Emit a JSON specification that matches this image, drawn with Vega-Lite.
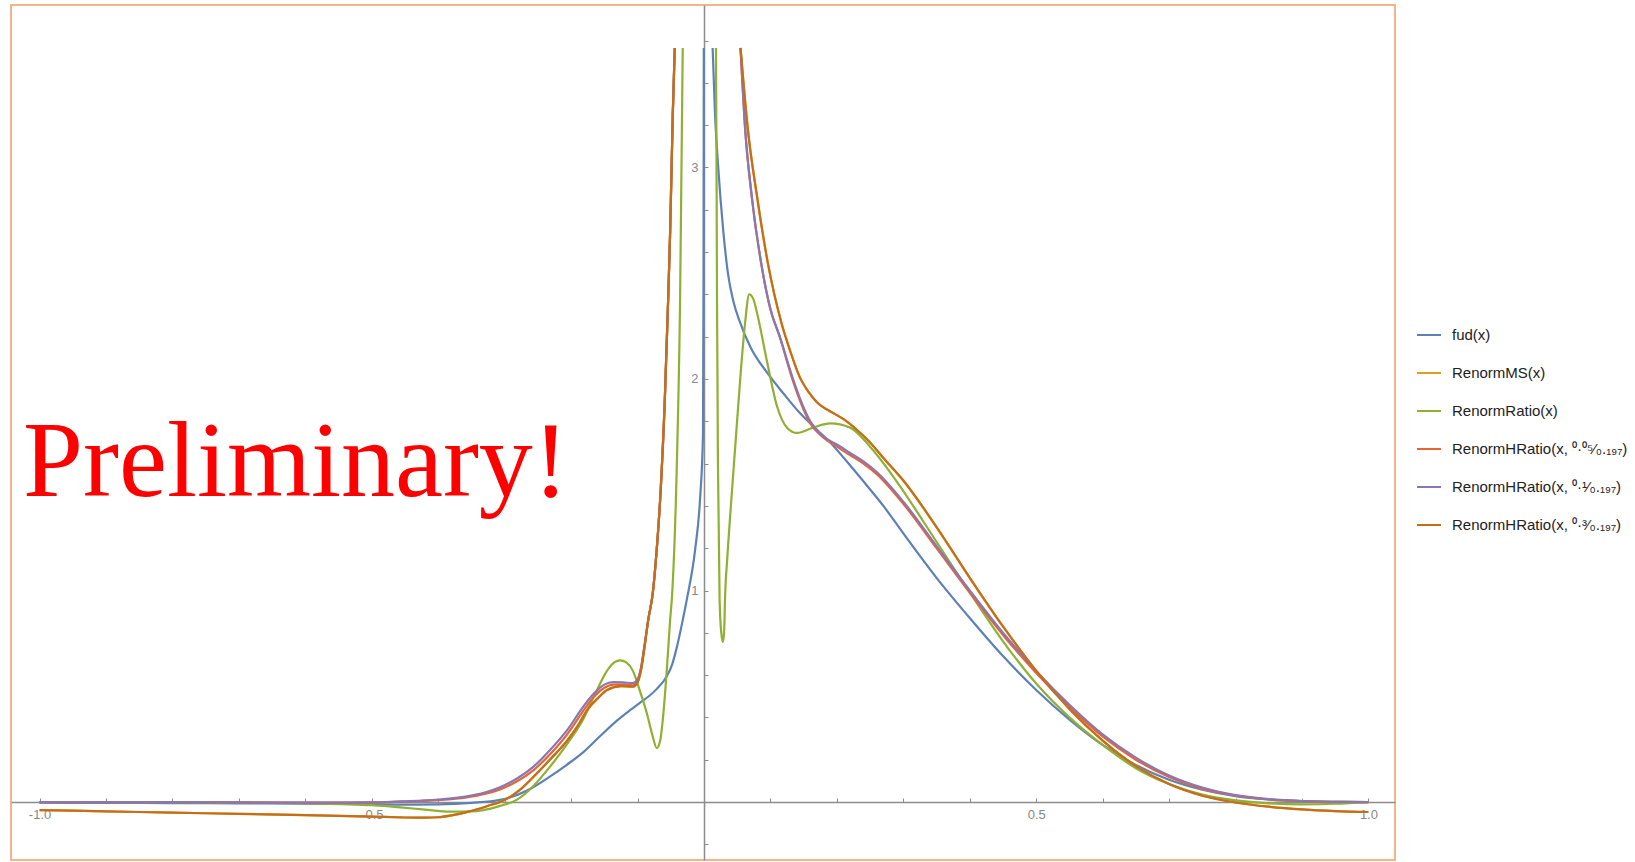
{
  "$schema": "https://vega.github.io/schema/vega-lite/v6.json",
  "width": 1384,
  "height": 855,
  "autosize": {"type": "none"},
  "padding": {"left": 11, "top": 5, "right": 240, "bottom": 2},
  "background": "white",
  "config": {"view": {"stroke": "#F4B48A", "strokeWidth": 2}, "font": "Liberation Sans"},
  "datasets": {
    "curves": [
      {"s":"fud","b":"L","x":-1,"y":-0.003},{"s":"fud","b":"L","x":-0.9,"y":-0.004},{"s":"fud","b":"L","x":-0.8,"y":-0.005},{"s":"fud","b":"L","x":-0.7,"y":-0.006},{"s":"fud","b":"L","x":-0.6,"y":-0.008},{"s":"fud","b":"L","x":-0.5,"y":-0.01},{"s":"fud","b":"L","x":-0.45,"y":-0.012},{"s":"fud","b":"L","x":-0.4,"y":-0.011},{"s":"fud","b":"L","x":-0.35,"y":-0.004},{"s":"fud","b":"L","x":-0.307,"y":0.01},{"s":"fud","b":"L","x":-0.28,"y":0.035},{"s":"fud","b":"L","x":-0.257,"y":0.07},{"s":"fud","b":"L","x":-0.232,"y":0.12},{"s":"fud","b":"L","x":-0.207,"y":0.175},{"s":"fud","b":"L","x":-0.182,"y":0.235},{"s":"fud","b":"L","x":-0.157,"y":0.31},{"s":"fud","b":"L","x":-0.131,"y":0.385},{"s":"fud","b":"L","x":-0.113,"y":0.43},{"s":"fud","b":"L","x":-0.096,"y":0.47},{"s":"fud","b":"L","x":-0.083,"y":0.5},{"s":"fud","b":"L","x":-0.071,"y":0.535},{"s":"fud","b":"L","x":-0.056,"y":0.595},{"s":"fud","b":"L","x":-0.048,"y":0.65},{"s":"fud","b":"L","x":-0.041,"y":0.73},{"s":"fud","b":"L","x":-0.032,"y":0.86},{"s":"fud","b":"L","x":-0.026,"y":0.955},{"s":"fud","b":"L","x":-0.0135,"y":1.19},{"s":"fud","b":"L","x":-0.006,"y":1.43},{"s":"fud","b":"L","x":-0.0015,"y":1.74},{"s":"fud","b":"L","x":-0.0007,"y":2.5},{"s":"fud","b":"L","x":-0.0003,"y":3.565},
      {"s":"fud","b":"R","x":0.013,"y":3.565},{"s":"fud","b":"R","x":0.0165,"y":3.26},{"s":"fud","b":"R","x":0.021,"y":3.02},{"s":"fud","b":"R","x":0.029,"y":2.7},{"s":"fud","b":"R","x":0.036,"y":2.5},{"s":"fud","b":"R","x":0.044,"y":2.37},{"s":"fud","b":"R","x":0.054,"y":2.27},{"s":"fud","b":"R","x":0.07,"y":2.15},{"s":"fud","b":"R","x":0.095,"y":2.03},{"s":"fud","b":"R","x":0.12,"y":1.93},{"s":"fud","b":"R","x":0.144,"y":1.84},{"s":"fud","b":"R","x":0.17,"y":1.76},{"s":"fud","b":"R","x":0.19,"y":1.7},{"s":"fud","b":"R","x":0.215,"y":1.61},{"s":"fud","b":"R","x":0.239,"y":1.52},{"s":"fud","b":"R","x":0.27,"y":1.4},{"s":"fud","b":"R","x":0.3,"y":1.27},{"s":"fud","b":"R","x":0.35,"y":1.06},{"s":"fud","b":"R","x":0.4,"y":0.87},{"s":"fud","b":"R","x":0.45,"y":0.69},{"s":"fud","b":"R","x":0.5,"y":0.53},{"s":"fud","b":"R","x":0.55,"y":0.39},{"s":"fud","b":"R","x":0.6,"y":0.27},{"s":"fud","b":"R","x":0.65,"y":0.175},{"s":"fud","b":"R","x":0.7,"y":0.105},{"s":"fud","b":"R","x":0.75,"y":0.058},{"s":"fud","b":"R","x":0.8,"y":0.028},{"s":"fud","b":"R","x":0.85,"y":0.012},{"s":"fud","b":"R","x":0.9,"y":0.004},{"s":"fud","b":"R","x":0.95,"y":0.001},{"s":"fud","b":"R","x":1,"y":0},

      {"s":"MS","b":"L","x":-1,"y":-0.038},{"s":"MS","b":"L","x":-0.9,"y":-0.044},{"s":"MS","b":"L","x":-0.8,"y":-0.05},{"s":"MS","b":"L","x":-0.7,"y":-0.056},{"s":"MS","b":"L","x":-0.6,"y":-0.062},{"s":"MS","b":"L","x":-0.5,"y":-0.069},{"s":"MS","b":"L","x":-0.45,"y":-0.073},{"s":"MS","b":"L","x":-0.42,"y":-0.074},{"s":"MS","b":"L","x":-0.4,"y":-0.072},{"s":"MS","b":"L","x":-0.38,"y":-0.063},{"s":"MS","b":"L","x":-0.36,"y":-0.05},{"s":"MS","b":"L","x":-0.34,"y":-0.033},{"s":"MS","b":"L","x":-0.32,"y":-0.013},{"s":"MS","b":"L","x":-0.307,"y":0},{"s":"MS","b":"L","x":-0.28,"y":0.05},{"s":"MS","b":"L","x":-0.257,"y":0.118},{"s":"MS","b":"L","x":-0.232,"y":0.2},{"s":"MS","b":"L","x":-0.206,"y":0.29},{"s":"MS","b":"L","x":-0.19,"y":0.36},{"s":"MS","b":"L","x":-0.176,"y":0.435},{"s":"MS","b":"L","x":-0.16,"y":0.49},{"s":"MS","b":"L","x":-0.146,"y":0.53},{"s":"MS","b":"L","x":-0.125,"y":0.548},{"s":"MS","b":"L","x":-0.107,"y":0.545},{"s":"MS","b":"L","x":-0.1,"y":0.565},{"s":"MS","b":"L","x":-0.095,"y":0.62},{"s":"MS","b":"L","x":-0.09,"y":0.72},{"s":"MS","b":"L","x":-0.084,"y":0.86},{"s":"MS","b":"L","x":-0.077,"y":0.99},{"s":"MS","b":"L","x":-0.071,"y":1.2},{"s":"MS","b":"L","x":-0.066,"y":1.43},{"s":"MS","b":"L","x":-0.059,"y":1.9},{"s":"MS","b":"L","x":-0.054,"y":2.37},{"s":"MS","b":"L","x":-0.051,"y":2.69},{"s":"MS","b":"L","x":-0.047,"y":3.25},{"s":"MS","b":"L","x":-0.044,"y":3.565},
      {"s":"MS","b":"R","x":0.055,"y":3.565},{"s":"MS","b":"R","x":0.066,"y":3.18},{"s":"MS","b":"R","x":0.08,"y":2.86},{"s":"MS","b":"R","x":0.096,"y":2.55},{"s":"MS","b":"R","x":0.117,"y":2.26},{"s":"MS","b":"R","x":0.13,"y":2.13},{"s":"MS","b":"R","x":0.144,"y":2.01},{"s":"MS","b":"R","x":0.157,"y":1.94},{"s":"MS","b":"R","x":0.17,"y":1.89},{"s":"MS","b":"R","x":0.194,"y":1.84},{"s":"MS","b":"R","x":0.21,"y":1.81},{"s":"MS","b":"R","x":0.23,"y":1.76},{"s":"MS","b":"R","x":0.25,"y":1.7},{"s":"MS","b":"R","x":0.269,"y":1.63},{"s":"MS","b":"R","x":0.3,"y":1.52},{"s":"MS","b":"R","x":0.35,"y":1.3},{"s":"MS","b":"R","x":0.4,"y":1.06},{"s":"MS","b":"R","x":0.45,"y":0.83},{"s":"MS","b":"R","x":0.5,"y":0.62},{"s":"MS","b":"R","x":0.55,"y":0.44},{"s":"MS","b":"R","x":0.6,"y":0.29},{"s":"MS","b":"R","x":0.65,"y":0.17},{"s":"MS","b":"R","x":0.7,"y":0.085},{"s":"MS","b":"R","x":0.75,"y":0.03},{"s":"MS","b":"R","x":0.8,"y":-0.002},{"s":"MS","b":"R","x":0.85,"y":-0.022},{"s":"MS","b":"R","x":0.9,"y":-0.035},{"s":"MS","b":"R","x":0.95,"y":-0.043},{"s":"MS","b":"R","x":1,"y":-0.047},

      {"s":"Ratio","b":"L","x":-1,"y":0},{"s":"Ratio","b":"L","x":-0.9,"y":0},{"s":"Ratio","b":"L","x":-0.8,"y":0},{"s":"Ratio","b":"L","x":-0.7,"y":-0.002},{"s":"Ratio","b":"L","x":-0.6,"y":-0.006},{"s":"Ratio","b":"L","x":-0.5,"y":-0.015},{"s":"Ratio","b":"L","x":-0.457,"y":-0.025},{"s":"Ratio","b":"L","x":-0.42,"y":-0.036},{"s":"Ratio","b":"L","x":-0.382,"y":-0.045},{"s":"Ratio","b":"L","x":-0.35,"y":-0.044},{"s":"Ratio","b":"L","x":-0.332,"y":-0.038},{"s":"Ratio","b":"L","x":-0.307,"y":-0.018},{"s":"Ratio","b":"L","x":-0.282,"y":0.01},{"s":"Ratio","b":"L","x":-0.257,"y":0.075},{"s":"Ratio","b":"L","x":-0.232,"y":0.166},{"s":"Ratio","b":"L","x":-0.207,"y":0.27},{"s":"Ratio","b":"L","x":-0.182,"y":0.39},{"s":"Ratio","b":"L","x":-0.164,"y":0.51},{"s":"Ratio","b":"L","x":-0.146,"y":0.62},{"s":"Ratio","b":"L","x":-0.135,"y":0.66},{"s":"Ratio","b":"L","x":-0.126,"y":0.67},{"s":"Ratio","b":"L","x":-0.117,"y":0.66},{"s":"Ratio","b":"L","x":-0.107,"y":0.62},{"s":"Ratio","b":"L","x":-0.097,"y":0.53},{"s":"Ratio","b":"L","x":-0.086,"y":0.42},{"s":"Ratio","b":"L","x":-0.078,"y":0.32},{"s":"Ratio","b":"L","x":-0.071,"y":0.255},{"s":"Ratio","b":"L","x":-0.066,"y":0.29},{"s":"Ratio","b":"L","x":-0.062,"y":0.39},{"s":"Ratio","b":"L","x":-0.056,"y":0.624},{"s":"Ratio","b":"L","x":-0.051,"y":0.86},{"s":"Ratio","b":"L","x":-0.048,"y":0.98},{"s":"Ratio","b":"L","x":-0.041,"y":1.58},{"s":"Ratio","b":"L","x":-0.036,"y":2.37},{"s":"Ratio","b":"L","x":-0.032,"y":3.565},
      {"s":"Ratio","b":"R","x":0.018,"y":3.565},{"s":"Ratio","b":"R","x":0.019,"y":2.9},{"s":"Ratio","b":"R","x":0.0196,"y":2.37},{"s":"Ratio","b":"R","x":0.021,"y":1.6},{"s":"Ratio","b":"R","x":0.0235,"y":0.955},{"s":"Ratio","b":"R","x":0.026,"y":0.8},{"s":"Ratio","b":"R","x":0.0286,"y":0.757},{"s":"Ratio","b":"R","x":0.0305,"y":0.82},{"s":"Ratio","b":"R","x":0.0316,"y":0.955},{"s":"Ratio","b":"R","x":0.035,"y":1.15},{"s":"Ratio","b":"R","x":0.04,"y":1.38},{"s":"Ratio","b":"R","x":0.047,"y":1.68},{"s":"Ratio","b":"R","x":0.055,"y":2.02},{"s":"Ratio","b":"R","x":0.062,"y":2.27},{"s":"Ratio","b":"R","x":0.068,"y":2.4},{"s":"Ratio","b":"R","x":0.074,"y":2.38},{"s":"Ratio","b":"R","x":0.08,"y":2.31},{"s":"Ratio","b":"R","x":0.095,"y":2.08},{"s":"Ratio","b":"R","x":0.11,"y":1.87},{"s":"Ratio","b":"R","x":0.125,"y":1.77},{"s":"Ratio","b":"R","x":0.14,"y":1.745},{"s":"Ratio","b":"R","x":0.164,"y":1.77},{"s":"Ratio","b":"R","x":0.19,"y":1.79},{"s":"Ratio","b":"R","x":0.22,"y":1.77},{"s":"Ratio","b":"R","x":0.25,"y":1.68},{"s":"Ratio","b":"R","x":0.28,"y":1.56},{"s":"Ratio","b":"R","x":0.3,"y":1.47},{"s":"Ratio","b":"R","x":0.35,"y":1.23},{"s":"Ratio","b":"R","x":0.4,"y":0.99},{"s":"Ratio","b":"R","x":0.45,"y":0.76},{"s":"Ratio","b":"R","x":0.5,"y":0.56},{"s":"Ratio","b":"R","x":0.55,"y":0.4},{"s":"Ratio","b":"R","x":0.6,"y":0.27},{"s":"Ratio","b":"R","x":0.65,"y":0.16},{"s":"Ratio","b":"R","x":0.7,"y":0.085},{"s":"Ratio","b":"R","x":0.75,"y":0.035},{"s":"Ratio","b":"R","x":0.8,"y":0.008},{"s":"Ratio","b":"R","x":0.85,"y":-0.006},{"s":"Ratio","b":"R","x":0.9,"y":-0.011},{"s":"Ratio","b":"R","x":0.95,"y":-0.008},{"s":"Ratio","b":"R","x":1,"y":0},

      {"s":"H05","b":"L","x":-1,"y":0},{"s":"H05","b":"L","x":-0.9,"y":0},{"s":"H05","b":"L","x":-0.8,"y":0},{"s":"H05","b":"L","x":-0.7,"y":-0.002},{"s":"H05","b":"L","x":-0.6,"y":-0.003},{"s":"H05","b":"L","x":-0.5,"y":-0.002},{"s":"H05","b":"L","x":-0.457,"y":0.002},{"s":"H05","b":"L","x":-0.4,"y":0.009},{"s":"H05","b":"L","x":-0.357,"y":0.022},{"s":"H05","b":"L","x":-0.33,"y":0.038},{"s":"H05","b":"L","x":-0.307,"y":0.06},{"s":"H05","b":"L","x":-0.282,"y":0.097},{"s":"H05","b":"L","x":-0.257,"y":0.15},{"s":"H05","b":"L","x":-0.232,"y":0.225},{"s":"H05","b":"L","x":-0.206,"y":0.32},{"s":"H05","b":"L","x":-0.182,"y":0.43},{"s":"H05","b":"L","x":-0.165,"y":0.5},{"s":"H05","b":"L","x":-0.15,"y":0.54},{"s":"H05","b":"L","x":-0.137,"y":0.555},{"s":"H05","b":"L","x":-0.122,"y":0.556},{"s":"H05","b":"L","x":-0.107,"y":0.552},{"s":"H05","b":"L","x":-0.1,"y":0.575},{"s":"H05","b":"L","x":-0.095,"y":0.63},{"s":"H05","b":"L","x":-0.09,"y":0.73},{"s":"H05","b":"L","x":-0.084,"y":0.86},{"s":"H05","b":"L","x":-0.077,"y":0.99},{"s":"H05","b":"L","x":-0.071,"y":1.2},{"s":"H05","b":"L","x":-0.066,"y":1.43},{"s":"H05","b":"L","x":-0.059,"y":1.9},{"s":"H05","b":"L","x":-0.054,"y":2.37},{"s":"H05","b":"L","x":-0.051,"y":2.69},{"s":"H05","b":"L","x":-0.047,"y":3.25},{"s":"H05","b":"L","x":-0.044,"y":3.565},
      {"s":"H05","b":"R","x":0.055,"y":3.565},{"s":"H05","b":"R","x":0.062,"y":3.18},{"s":"H05","b":"R","x":0.072,"y":2.86},{"s":"H05","b":"R","x":0.087,"y":2.53},{"s":"H05","b":"R","x":0.1,"y":2.33},{"s":"H05","b":"R","x":0.114,"y":2.2},{"s":"H05","b":"R","x":0.134,"y":1.99},{"s":"H05","b":"R","x":0.148,"y":1.87},{"s":"H05","b":"R","x":0.16,"y":1.79},{"s":"H05","b":"R","x":0.179,"y":1.725},{"s":"H05","b":"R","x":0.2,"y":1.68},{"s":"H05","b":"R","x":0.22,"y":1.64},{"s":"H05","b":"R","x":0.24,"y":1.6},{"s":"H05","b":"R","x":0.26,"y":1.55},{"s":"H05","b":"R","x":0.3,"y":1.41},{"s":"H05","b":"R","x":0.35,"y":1.2},{"s":"H05","b":"R","x":0.4,"y":0.99},{"s":"H05","b":"R","x":0.45,"y":0.79},{"s":"H05","b":"R","x":0.5,"y":0.61},{"s":"H05","b":"R","x":0.55,"y":0.45},{"s":"H05","b":"R","x":0.6,"y":0.31},{"s":"H05","b":"R","x":0.65,"y":0.2},{"s":"H05","b":"R","x":0.7,"y":0.118},{"s":"H05","b":"R","x":0.75,"y":0.062},{"s":"H05","b":"R","x":0.8,"y":0.03},{"s":"H05","b":"R","x":0.85,"y":0.012},{"s":"H05","b":"R","x":0.9,"y":0.004},{"s":"H05","b":"R","x":0.95,"y":0.001},{"s":"H05","b":"R","x":1,"y":0},

      {"s":"H1","b":"L","x":-1,"y":0},{"s":"H1","b":"L","x":-0.9,"y":0},{"s":"H1","b":"L","x":-0.8,"y":0},{"s":"H1","b":"L","x":-0.7,"y":-0.002},{"s":"H1","b":"L","x":-0.6,"y":-0.003},{"s":"H1","b":"L","x":-0.5,"y":-0.002},{"s":"H1","b":"L","x":-0.457,"y":0.003},{"s":"H1","b":"L","x":-0.4,"y":0.012},{"s":"H1","b":"L","x":-0.357,"y":0.027},{"s":"H1","b":"L","x":-0.33,"y":0.045},{"s":"H1","b":"L","x":-0.307,"y":0.07},{"s":"H1","b":"L","x":-0.282,"y":0.11},{"s":"H1","b":"L","x":-0.257,"y":0.166},{"s":"H1","b":"L","x":-0.232,"y":0.245},{"s":"H1","b":"L","x":-0.206,"y":0.34},{"s":"H1","b":"L","x":-0.182,"y":0.45},{"s":"H1","b":"L","x":-0.165,"y":0.515},{"s":"H1","b":"L","x":-0.15,"y":0.555},{"s":"H1","b":"L","x":-0.137,"y":0.567},{"s":"H1","b":"L","x":-0.122,"y":0.566},{"s":"H1","b":"L","x":-0.107,"y":0.562},{"s":"H1","b":"L","x":-0.1,"y":0.58},{"s":"H1","b":"L","x":-0.095,"y":0.63},{"s":"H1","b":"L","x":-0.09,"y":0.73},{"s":"H1","b":"L","x":-0.084,"y":0.86},{"s":"H1","b":"L","x":-0.077,"y":0.99},{"s":"H1","b":"L","x":-0.071,"y":1.2},{"s":"H1","b":"L","x":-0.066,"y":1.43},{"s":"H1","b":"L","x":-0.059,"y":1.9},{"s":"H1","b":"L","x":-0.054,"y":2.37},{"s":"H1","b":"L","x":-0.051,"y":2.69},{"s":"H1","b":"L","x":-0.047,"y":3.25},{"s":"H1","b":"L","x":-0.044,"y":3.565},
      {"s":"H1","b":"R","x":0.055,"y":3.565},{"s":"H1","b":"R","x":0.062,"y":3.18},{"s":"H1","b":"R","x":0.072,"y":2.86},{"s":"H1","b":"R","x":0.087,"y":2.53},{"s":"H1","b":"R","x":0.1,"y":2.33},{"s":"H1","b":"R","x":0.114,"y":2.2},{"s":"H1","b":"R","x":0.134,"y":2},{"s":"H1","b":"R","x":0.148,"y":1.88},{"s":"H1","b":"R","x":0.16,"y":1.8},{"s":"H1","b":"R","x":0.179,"y":1.73},{"s":"H1","b":"R","x":0.2,"y":1.69},{"s":"H1","b":"R","x":0.22,"y":1.65},{"s":"H1","b":"R","x":0.24,"y":1.61},{"s":"H1","b":"R","x":0.26,"y":1.56},{"s":"H1","b":"R","x":0.3,"y":1.42},{"s":"H1","b":"R","x":0.35,"y":1.21},{"s":"H1","b":"R","x":0.4,"y":1},{"s":"H1","b":"R","x":0.45,"y":0.8},{"s":"H1","b":"R","x":0.5,"y":0.62},{"s":"H1","b":"R","x":0.55,"y":0.46},{"s":"H1","b":"R","x":0.6,"y":0.32},{"s":"H1","b":"R","x":0.65,"y":0.21},{"s":"H1","b":"R","x":0.7,"y":0.125},{"s":"H1","b":"R","x":0.75,"y":0.068},{"s":"H1","b":"R","x":0.8,"y":0.033},{"s":"H1","b":"R","x":0.85,"y":0.014},{"s":"H1","b":"R","x":0.9,"y":0.005},{"s":"H1","b":"R","x":0.95,"y":0.001},{"s":"H1","b":"R","x":1,"y":0},

      {"s":"H3","b":"L","x":-1,"y":-0.038},{"s":"H3","b":"L","x":-0.9,"y":-0.044},{"s":"H3","b":"L","x":-0.8,"y":-0.05},{"s":"H3","b":"L","x":-0.7,"y":-0.056},{"s":"H3","b":"L","x":-0.6,"y":-0.062},{"s":"H3","b":"L","x":-0.5,"y":-0.069},{"s":"H3","b":"L","x":-0.45,"y":-0.073},{"s":"H3","b":"L","x":-0.42,"y":-0.074},{"s":"H3","b":"L","x":-0.4,"y":-0.072},{"s":"H3","b":"L","x":-0.38,"y":-0.063},{"s":"H3","b":"L","x":-0.36,"y":-0.05},{"s":"H3","b":"L","x":-0.34,"y":-0.033},{"s":"H3","b":"L","x":-0.32,"y":-0.013},{"s":"H3","b":"L","x":-0.307,"y":0},{"s":"H3","b":"L","x":-0.28,"y":0.05},{"s":"H3","b":"L","x":-0.257,"y":0.118},{"s":"H3","b":"L","x":-0.232,"y":0.2},{"s":"H3","b":"L","x":-0.206,"y":0.29},{"s":"H3","b":"L","x":-0.19,"y":0.36},{"s":"H3","b":"L","x":-0.176,"y":0.435},{"s":"H3","b":"L","x":-0.16,"y":0.49},{"s":"H3","b":"L","x":-0.146,"y":0.53},{"s":"H3","b":"L","x":-0.125,"y":0.548},{"s":"H3","b":"L","x":-0.107,"y":0.545},{"s":"H3","b":"L","x":-0.1,"y":0.565},{"s":"H3","b":"L","x":-0.095,"y":0.62},{"s":"H3","b":"L","x":-0.09,"y":0.72},{"s":"H3","b":"L","x":-0.084,"y":0.86},{"s":"H3","b":"L","x":-0.077,"y":0.99},{"s":"H3","b":"L","x":-0.071,"y":1.2},{"s":"H3","b":"L","x":-0.066,"y":1.43},{"s":"H3","b":"L","x":-0.059,"y":1.9},{"s":"H3","b":"L","x":-0.054,"y":2.37},{"s":"H3","b":"L","x":-0.051,"y":2.69},{"s":"H3","b":"L","x":-0.047,"y":3.25},{"s":"H3","b":"L","x":-0.044,"y":3.565},
      {"s":"H3","b":"R","x":0.055,"y":3.565},{"s":"H3","b":"R","x":0.066,"y":3.18},{"s":"H3","b":"R","x":0.08,"y":2.86},{"s":"H3","b":"R","x":0.096,"y":2.55},{"s":"H3","b":"R","x":0.117,"y":2.26},{"s":"H3","b":"R","x":0.13,"y":2.13},{"s":"H3","b":"R","x":0.144,"y":2.01},{"s":"H3","b":"R","x":0.157,"y":1.94},{"s":"H3","b":"R","x":0.17,"y":1.89},{"s":"H3","b":"R","x":0.194,"y":1.84},{"s":"H3","b":"R","x":0.21,"y":1.81},{"s":"H3","b":"R","x":0.23,"y":1.76},{"s":"H3","b":"R","x":0.25,"y":1.7},{"s":"H3","b":"R","x":0.269,"y":1.63},{"s":"H3","b":"R","x":0.3,"y":1.52},{"s":"H3","b":"R","x":0.35,"y":1.3},{"s":"H3","b":"R","x":0.4,"y":1.06},{"s":"H3","b":"R","x":0.45,"y":0.83},{"s":"H3","b":"R","x":0.5,"y":0.62},{"s":"H3","b":"R","x":0.55,"y":0.44},{"s":"H3","b":"R","x":0.6,"y":0.29},{"s":"H3","b":"R","x":0.65,"y":0.17},{"s":"H3","b":"R","x":0.7,"y":0.085},{"s":"H3","b":"R","x":0.75,"y":0.03},{"s":"H3","b":"R","x":0.8,"y":-0.002},{"s":"H3","b":"R","x":0.85,"y":-0.022},{"s":"H3","b":"R","x":0.9,"y":-0.035},{"s":"H3","b":"R","x":0.95,"y":-0.043},{"s":"H3","b":"R","x":1,"y":-0.047}
    ]
  },
  "layer": [
    {
      "data": {"name": "curves"},
      "mark": {"type": "line", "interpolate": "monotone", "strokeWidth": 2.2},
      "encoding": {
        "x": {
          "field": "x", "type": "quantitative",
          "scale": {"domain": [-1.043, 1.04], "nice": false, "zero": false},
          "axis": {
            "title": null, "grid": false, "offset": -58,
            "values": [-1, -0.9, -0.8, -0.7, -0.6, -0.5, -0.4, -0.3, -0.2, -0.1, 0.1, 0.2, 0.3, 0.4, 0.5, 0.6, 0.7, 0.8, 0.9, 1],
            "labelExpr": "datum.value == -1 ? '-1.0' : datum.value == -0.5 ? '-0.5' : datum.value == 0.5 ? '0.5' : datum.value == 1 ? '1.0' : ''",
            "tickSize": -4, "tickColor": "#8c8c8c", "tickWidth": 1,
            "domainColor": "#8c8c8c", "domainWidth": 1.5,
            "labelPadding": 10, "labelColor": "#888888", "labelFontSize": 13, "labelFont": "Liberation Sans",
            "labelFlush": false, "labelOverlap": false
          }
        },
        "y": {
          "field": "y", "type": "quantitative",
          "scale": {"domain": [-0.274, 3.768], "nice": false, "zero": false},
          "axis": {
            "title": null, "grid": false, "offset": -693,
            "values": [-0.2, 0.2, 0.4, 0.6, 0.8, 1, 1.2, 1.4, 1.6, 1.8, 2, 2.2, 2.4, 2.6, 2.8, 3, 3.2, 3.4, 3.6],
            "labelExpr": "datum.value == 1 ? '1' : datum.value == 2 ? '2' : datum.value == 3 ? '3' : ''",
            "tickSize": -4, "tickColor": "#8c8c8c", "tickWidth": 1,
            "domainColor": "#8c8c8c", "domainWidth": 1.5,
            "labelPadding": 10, "labelColor": "#888888", "labelFontSize": 13, "labelFont": "Liberation Sans",
            "labelFlush": false, "labelOverlap": false
          }
        },
        "color": {
          "field": "s", "type": "nominal",
          "scale": {"domain": ["fud", "MS", "Ratio", "H05", "H1", "H3"], "range": ["#5E81B5", "#E19C24", "#8FB032", "#EB6235", "#8778B3", "#C56E1A"]},
          "legend": {
            "title": null, "orient": "none", "legendX": 1405, "legendY": 317,
            "symbolType": "stroke", "symbolSize": 576, "symbolStrokeWidth": 2,
            "labelFontSize": 15, "labelFont": "Liberation Sans", "labelColor": "#222222", "labelLimit": 300,
            "labelOffset": 10, "rowPadding": 17, "padding": 0,
            "labelExpr": "datum.label == 'fud' ? 'fud(x)' : datum.label == 'MS' ? 'RenormMS(x)' : datum.label == 'Ratio' ? 'RenormRatio(x)' : datum.label == 'H05' ? 'RenormHRatio(x, ⁰·⁰⁵⁄₀.₁₉₇)' : datum.label == 'H1' ? 'RenormHRatio(x, ⁰·¹⁄₀.₁₉₇)' : 'RenormHRatio(x, ⁰·³⁄₀.₁₉₇)'"
          }
        },
        "detail": {"field": "b"}
      }
    },
    {
      "data": {"values": [{}]},
      "mark": {"type": "text", "font": "Liberation Serif", "fontSize": 108, "color": "#FF0000", "align": "left", "baseline": "alphabetic"},
      "encoding": {
        "x": {"datum": -1.025, "type": "quantitative"},
        "y": {"datum": 1.447, "type": "quantitative"},
        "text": {"value": "Preliminary!"}
      }
    }
  ]
}
